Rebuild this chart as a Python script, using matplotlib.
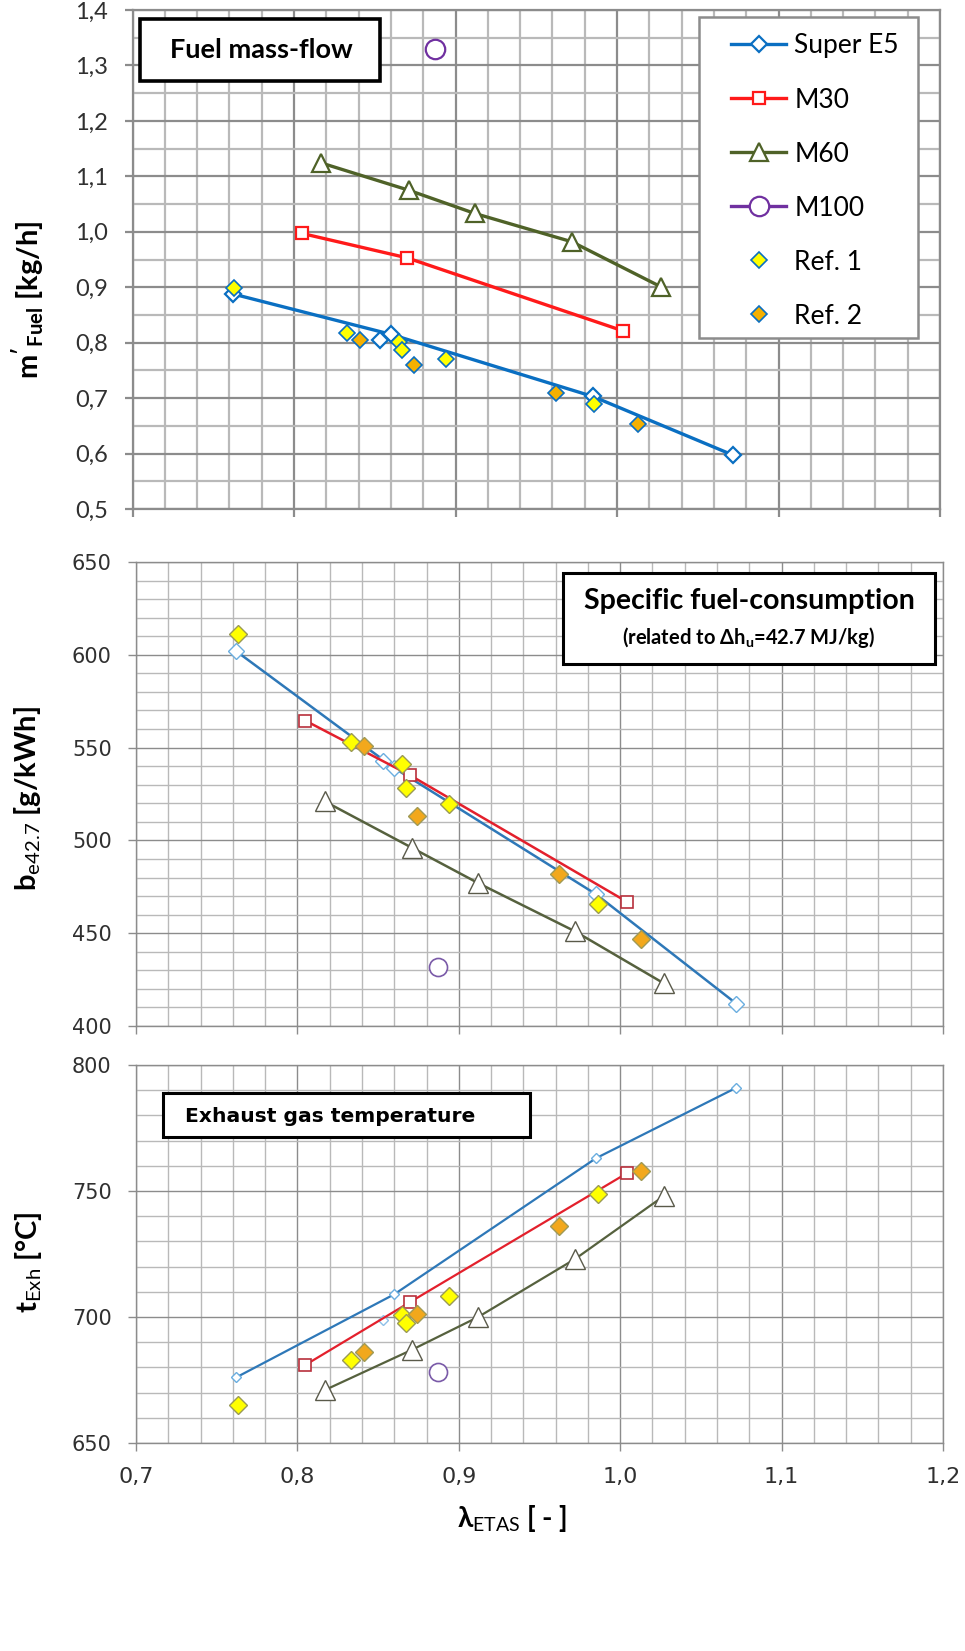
import matplotlib
matplotlib.use("Agg")
import matplotlib.pyplot as plt
from matplotlib.ticker import MultipleLocator, FuncFormatter
from matplotlib.patches import Rectangle

plt.rcParams['mathtext.fontset'] = 'custom'
plt.rcParams['mathtext.rm'] = 'Lato'
plt.rcParams['mathtext.bf'] = 'Lato:bold'
plt.rcParams['mathtext.it'] = 'Lato:italic'

# lambda values (x) of each fuel
lam_e5 = [0.762, 0.860, 0.985, 1.072]
lam_e5_extra = [0.853]
lam_m30 = [0.805, 0.870, 1.004]
lam_m60 = [0.817, 0.871, 0.912, 0.972, 1.027]
lam_m100 = [0.887]
lam_ref1 = [0.763, 0.833, 0.865, 0.867, 0.894, 0.986]
lam_ref2 = [0.841, 0.874, 0.962, 1.013]

# fuel mass flow [kg/h]
mf_e5 = [0.888, 0.815, 0.703, 0.597]
mf_e5_extra = [0.805]
mf_m30 = [0.997, 0.953, 0.821]
mf_m60 = [1.124, 1.075, 1.033, 0.982, 0.901]
mf_m100 = [1.329]
mf_ref1 = [0.898, 0.817, 0.802, 0.787, 0.770, 0.690]
mf_ref2 = [0.805, 0.760, 0.710, 0.654]

# specific fuel consumption [g/kWh]
be_e5 = [602, 539, 471, 412]
be_e5_extra = [543]
be_m30 = [564.5, 535, 467]
be_m60 = [521, 496, 477, 451, 423]
be_m100 = [432]
be_ref1 = [611, 553, 541, 528.5, 519.5, 465.5]
be_ref2 = [550.7, 513.4, 482, 446.7]

# exhaust gas temperature [degC]
te_e5 = [676, 709, 763, 791]
te_e5_extra = [699]
te_m30 = [681, 706, 757]
te_m60 = [671, 687, 700, 723, 748]
te_m100 = [678]
te_ref1 = [665, 683, 700.8, 697.5, 708.3, 749]
te_ref2 = [686, 701, 736, 758]

W, H = 965, 1651
fig = plt.figure(figsize=(W / 100, H / 100), dpi=100)


def px_axes(l, t, r, b):
    return fig.add_axes([l / W, 1 - b / H, (r - l) / W, (b - t) / H])


def comma(v, _):
    return f"{v:.1f}".replace('.', ',')


def style_axes(ax, ymin, ymax, ymaj, ymin_step, glw, tick_font, tick_size, yfmt=None):
    ax.set_xlim(0.7, 1.2)
    ax.set_ylim(ymin, ymax)
    ax.xaxis.set_major_locator(MultipleLocator(0.1))
    ax.xaxis.set_minor_locator(MultipleLocator(0.02))
    ax.yaxis.set_major_locator(MultipleLocator(ymaj))
    ax.yaxis.set_minor_locator(MultipleLocator(ymin_step))
    ax.grid(which='minor', color='#b9b9b9', lw=glw)
    ax.grid(which='major', color='#8c8c8c', lw=glw)
    ax.set_axisbelow(True)
    for s in ax.spines.values():
        s.set_color('#8c8c8c')
        s.set_linewidth(glw)
    ax.tick_params(which='minor', length=0)
    ax.tick_params(which='major', direction='out', length=5.5, width=glw,
                   color='#8c8c8c', labelcolor='#303030', pad=12)
    for lab in ax.get_yticklabels() + ax.get_xticklabels():
        lab.set_fontfamily(tick_font)
        lab.set_fontsize(tick_size)
    if yfmt is not None:
        ax.yaxis.set_major_formatter(FuncFormatter(yfmt))


def px_rect(l, t, r, b, lw, ec='black', z=5):
    return Rectangle((l / W, 1 - b / H), (r - l) / W, (b - t) / H, transform=fig.transFigure,
                     fc='white', ec=ec, lw=lw, zorder=z, clip_on=False)


def box(l, t, r, b, lw):
    fig.add_artist(px_rect(l, t, r, b, lw))


blue = '#0a6fc2'
red = '#ff1a1a'
olive = '#4f6228'
purple = '#7030a0'
yellow = '#ffff00'
orange = '#f5b000'

# ---------------- top: fuel mass flow ----------------
ax1 = px_axes(132.5, 10, 940, 509)
style_axes(ax1, 0.5, 1.4, 0.1, 0.05, 1.6, 'Lato', 17, comma)
ax1.tick_params(axis='x', labelbottom=False)

ax1.plot(lam_e5, mf_e5, color=blue, lw=2.4, marker='D', ms=8, mfc='white', mec=blue, mew=1.6,
         label='Super E5', zorder=3)
ax1.plot(lam_e5_extra, mf_e5_extra, ls='none', marker='D', ms=8, mfc='white', mec=blue, mew=1.6, zorder=3)
ax1.plot(lam_m30, mf_m30, color=red, lw=2.4, marker='s', ms=9, mfc='white', mec=red, mew=1.6,
         label='M30', zorder=3)
ax1.plot(lam_m60, mf_m60, color=olive, lw=2.4, marker='^', ms=13, mfc='white', mec=olive, mew=1.6,
         label='M60', zorder=3)
ax1.plot(lam_m100, mf_m100, color=purple, lw=2.4, ls='none', marker='o', ms=14, mfc='white', mec=purple,
         mew=1.6, label='M100', zorder=3)
ax1.plot(lam_ref1, mf_ref1, ls='none', marker='D', ms=8.5, mfc=yellow, mec=blue, mew=1.2,
         label='Ref. 1', zorder=4)
ax1.plot(lam_ref2, mf_ref2, ls='none', marker='D', ms=8.5, mfc=orange, mec=blue, mew=1.2,
         label='Ref. 2', zorder=4)

# legend entry for M100 shows a line through the circle
h, l = ax1.get_legend_handles_labels()
m100_handle = plt.Line2D([], [], color=purple, lw=2.4, marker='o', ms=14, mfc='white', mec=purple, mew=1.6)
h[3] = m100_handle
# legend frame drawn separately (Excel style, wider left margin)
ax1.add_patch(px_rect(699, 17, 918, 338, 1.8, ec='#8c8c8c', z=5.5))
leg = ax1.legend(h, l, loc='upper right', bbox_to_anchor=(0.967, 0.982), borderaxespad=0,
                 prop={'family': 'Lato', 'size': 19}, labelspacing=1.1, handlelength=2.1,
                 handletextpad=0.3, borderpad=0.55, frameon=False)
leg.set_zorder(6)

fig.text(28 / W, 1 - 300 / H, r"$\mathbf{m'}_{\mathbf{Fuel}}$ [kg/h]", rotation=90, ha='center',
         va='center', fontsize=21, fontweight='bold', family='Lato')

# ---------------- middle: specific consumption ----------------
ax2 = px_axes(136, 562, 943, 1026)
style_axes(ax2, 400, 650, 50, 10, 1.0, 'DejaVu Sans', 15)
ax2.tick_params(axis='x', labelbottom=False)

blue2 = '#2e78b8'
red2 = '#e3202c'
olive2 = '#56613e'
ax2.plot(lam_e5, be_e5, color=blue2, lw=1.8, marker='D', ms=8, mfc='white', mec='#6aaee0', mew=1.0, zorder=3)
ax2.plot(lam_e5_extra, be_e5_extra, ls='none', marker='D', ms=8, mfc='white', mec='#6aaee0', mew=1.0, zorder=3)
ax2.plot(lam_m30, be_m30, color=red2, lw=1.8, marker='s', ms=9, mfc='white', mec='#b8303c', mew=1.2, zorder=3)
ax2.plot(lam_m60, be_m60, color=olive2, lw=1.8, marker='^', ms=15, mfc='white', mec='#5a5a4a', mew=1.0, zorder=3)
ax2.plot(lam_m100, be_m100, ls='none', marker='o', ms=13, mfc='white', mec='#7a5aa8', mew=1.2, zorder=3)
ax2.plot(lam_ref1, be_ref1, ls='none', marker='D', ms=9, mfc=yellow, mec='#9a9a55', mew=1.0, zorder=4)
ax2.plot(lam_ref2, be_ref2, ls='none', marker='D', ms=9, mfc='#f2a81c', mec='#a09a55', mew=1.0, zorder=4)

fig.text(28 / W, 1 - 798 / H, r"$\mathbf{b}_{\mathrm{e42.7}}$ [g/kWh]", rotation=90, ha='center',
         va='center', fontsize=21, fontweight='bold', family='Lato')

# ---------------- bottom: exhaust temperature ----------------
ax3 = px_axes(136, 1065, 943, 1443)
style_axes(ax3, 650, 800, 50, 10, 1.0, 'DejaVu Sans', 15, None)
ax3.xaxis.set_major_formatter(FuncFormatter(comma))
for lab in ax3.get_xticklabels():
    lab.set_fontfamily('DejaVu Sans')
    lab.set_fontsize(16)

ax3.plot(lam_e5, te_e5, color=blue2, lw=1.6, marker='D', ms=5.5, mfc='white', mec='#6aaee0', mew=1.0, zorder=3)
ax3.plot(lam_e5_extra, te_e5_extra, ls='none', marker='D', ms=5.5, mfc='white', mec='#8ec0e8', mew=1.0, zorder=3)
ax3.plot(lam_m30, te_m30, color=red2, lw=1.6, marker='s', ms=9, mfc='white', mec='#b8303c', mew=1.2, zorder=3)
ax3.plot(lam_m60, te_m60, color=olive2, lw=1.6, marker='^', ms=15, mfc='white', mec='#5a5a4a', mew=1.0, zorder=3)
ax3.plot(lam_m100, te_m100, ls='none', marker='o', ms=13, mfc='white', mec='#7a5aa8', mew=1.2, zorder=3)
ax3.plot(lam_ref1, te_ref1, ls='none', marker='D', ms=9, mfc=yellow, mec='#9a9a55', mew=1.0, zorder=4)
ax3.plot(lam_ref2, te_ref2, ls='none', marker='D', ms=9, mfc='#f2a81c', mec='#a09a55', mew=1.0, zorder=4)

fig.text(28 / W, 1 - 1262 / H, r"$\mathbf{t}_{\mathrm{Exh}}$ [°C]", rotation=90, ha='center',
         va='center', fontsize=21, fontweight='bold', family='Lato')
fig.text(512 / W, 1 - 1518 / H, r"$\mathbf{\lambda}_{\mathrm{ETAS}}$ [ - ]", ha='center',
         va='center', fontsize=20, fontweight='bold', family='Lato')

# ---------------- title boxes ----------------
box(140, 19, 380, 81, 2.6)
fig.text(261 / W, 1 - 50 / H, "Fuel mass-flow", ha='center', va='center', fontsize=19.5,
         fontweight='bold', family='Lato', zorder=6)

box(563, 573, 935, 664, 2.2)
fig.text(749 / W, 1 - 601 / H, "Specific fuel-consumption", ha='center', va='center', fontsize=20.5,
         fontweight='bold', family='Lato', zorder=6)
fig.text(749 / W, 1 - 637 / H, r"(related to Δh$_{\mathregular{u}}$=42.7 MJ/kg)", ha='center', va='center',
         fontsize=14.5, fontweight='bold', family=['Lato', 'DejaVu Sans'], zorder=6)

box(163, 1093, 530, 1137, 2.2)
fig.text(185 / W, 1 - 1116 / H, "Exhaust gas temperature", ha='left', va='center', fontsize=14.6,
         fontweight='bold', family='DejaVu Sans', zorder=6)

fig.savefig("out.png", dpi=100)
